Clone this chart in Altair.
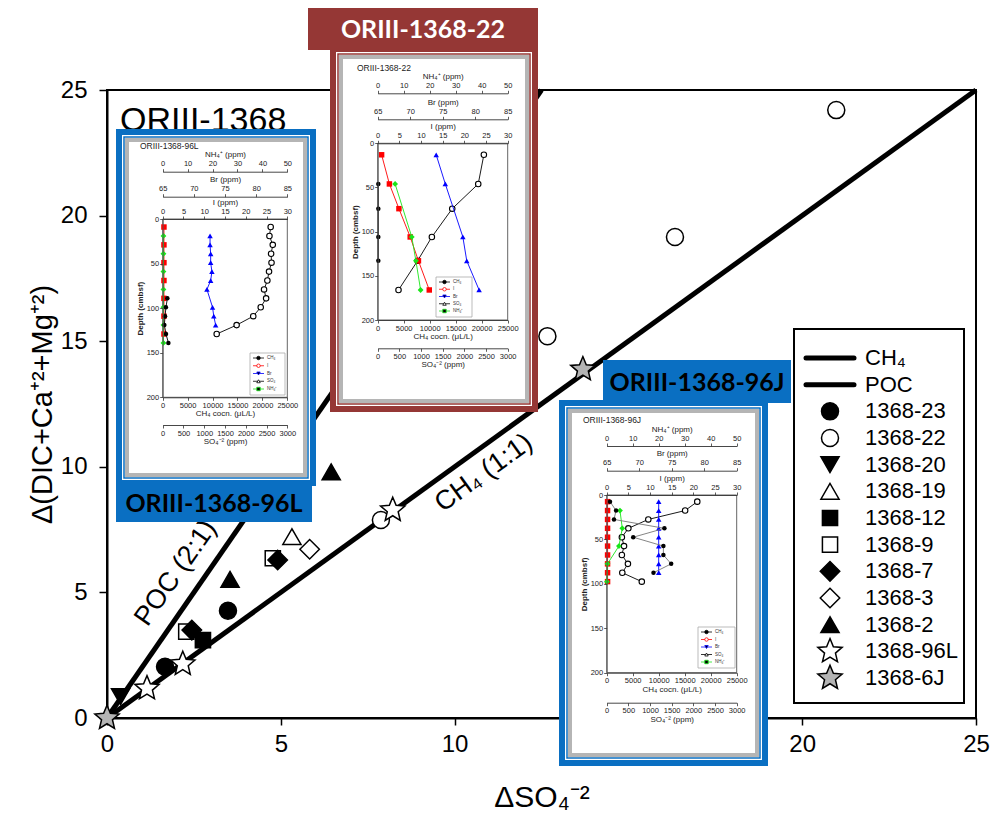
import altair as alt
import pandas as pd

FONT = "Liberation Sans"

# ---------------- main scatter data ----------------
series_names = ["1368-23", "1368-22", "1368-20", "1368-19", "1368-12", "1368-9",
                "1368-7", "1368-3", "1368-2", "1368-96L", "1368-6J"]
pt_series = ["1368-23", "1368-23",
             "1368-22", "1368-22", "1368-22", "1368-22",
             "1368-20", "1368-19", "1368-12", "1368-9", "1368-9",
             "1368-7", "1368-7", "1368-3", "1368-2", "1368-2",
             "1368-96L", "1368-96L", "1368-96L", "1368-6J", "1368-6J"]
pt_so4 = [1.67, 3.48, 7.88, 12.67, 16.34, 20.98, 0.39, 5.32, 2.76, 2.28, 4.77,
          2.44, 4.91, 5.83, 3.54, 6.45, 1.15, 2.18, 8.22, 0.0, 13.69]
pt_dic = [2.04, 4.27, 7.88, 15.2, 19.15, 24.2, 0.85, 7.22, 3.1, 3.44, 6.36,
          3.5, 6.29, 6.72, 5.52, 9.8, 1.18, 2.15, 8.28, 0.0, 13.88]

# reference lines
line_names = ["CH4", "CH4", "POC", "POC"]
line_x = [0, 25, 0, 12.5]
line_y = [0, 25, 0, 25]

legend_labels = ["CH₄", "POC"] + series_names

# ---------------- inset data (depth profiles) ----------------
# ORIII-1368-96L
L_ch4_depth = [89, 99, 109, 119, 129, 139]
L_ch4 = [940, 650, 470, 330, 670, 1140]
L_i_depth = [9, 29, 49, 69, 89, 109, 129]
L_i = [0.3, 0.3, 0.3, 0.3, 0.3, 0.3, 0.3]
L_br_depth = [19, 29, 39, 49, 59, 69, 79, 99, 109, 119]
L_br = [72.6, 72.6, 72.7, 72.7, 72.9, 72.7, 72.1, 73.0, 73.2, 73.5]
L_so4_depth = [9, 19, 29, 39, 49, 59, 69, 79, 89, 99, 109, 119, 129]
L_so4 = [2600, 2570, 2650, 2610, 2620, 2560, 2520, 2440, 2490, 2360, 2180, 1780, 1300]
L_nh4_depth = [19, 39, 59, 79, 99, 119, 139]
L_nh4 = [0.3, 0.3, 0.3, 0.3, 0.3, 0.3, 0.3]

# ORIII-1368-22
M_ch4_depth = [46, 74, 106, 133]
M_ch4 = [120, 120, 120, 120]
M_i_depth = [13, 46, 74, 106, 133, 166]
M_i = [0.9, 2.7, 4.9, 7.5, 9.4, 11.9]
M_br_depth = [13, 46, 106, 133, 166]
M_br = [74.0, 75.4, 78.1, 78.7, 80.6]
M_so4_depth = [13, 46, 74, 106, 133, 166]
M_so4 = [2450, 2320, 1720, 1250, 920, 480]
M_nh4_depth = [46, 106, 133, 166]
M_nh4 = [6.7, 13.1, 14.7, 16.5]

# ORIII-1368-96J
J_ch4_depth = [7.5, 17.5, 27.5, 37.5, 47.5, 57.5, 67.5, 77.5, 87.5]
J_ch4 = [640, 1800, 1400, 11100, 5100, 10900, 10900, 12400, 9000]
J_i_depth = [7.5, 17.5, 27.5, 37.5, 47.5, 57.5, 67.5, 77.5, 87.5, 97.5]
J_i = [0.2, 0.2, 0.2, 0.2, 0.2, 0.2, 0.2, 0.2, 0.2, 0.2]
J_br_depth = [7.5, 17.5, 27.5, 37.5, 47.5, 57.5, 67.5, 77.5, 87.5]
J_br = [73.0, 73.0, 73.0, 73.0, 73.0, 73.0, 73.0, 73.0, 73.0]
J_so4_depth = [7.5, 17.5, 27.5, 37.5, 47.5, 57.5, 67.5, 77.5, 87.5, 97.5]
J_so4 = [2090, 1810, 960, 500, 350, 400, 350, 490, 360, 810]
J_nh4_depth = [17.5, 37.5, 57.5, 77.5, 97.5]
J_nh4 = [5.1, 6.0, 4.7, 0.3, 0.1]

inset_rows = ["CH₄", "I", "Br", "SO₄", "NH₄⁺"]

# ---------------- layout ----------------
OX, OY = 107, 90      # plot origin on the page
W, H = 869, 628
BLUE = "#0a6fc2"
MAROON = "#953735"
STAR = ("M0,-1L0.265,-0.364L0.951,-0.309L0.428,0.139L0.588,0.809L0,0.45"
        "L-0.588,0.809L-0.428,0.139L-0.951,-0.309L-0.265,-0.364Z")

one = pd.DataFrame({"k": [0]})


def rx(px):
    return px - OX


def ry(py):
    return py - OY


def box(x0, y0, x1, y1, **kw):
    return alt.Chart(one).mark_rect(**kw).encode(
        x=alt.value(rx(x0)), x2=alt.value(rx(x1)),
        y=alt.value(ry(y0)), y2=alt.value(ry(y1)))


def txt(s, x, y, **kw):
    return alt.Chart(one).mark_text(text=s, **kw).encode(
        x=alt.value(rx(x)), y=alt.value(ry(y)))


# ---------------- main chart ----------------
shape_scale = alt.Scale(domain=series_names,
                        range=["circle", "circle", "triangle-down", "triangle-up", "square", "square",
                               "diamond", "diamond", "triangle-up", STAR, STAR])
fill_scale = alt.Scale(domain=series_names,
                       range=["black", "white", "black", "white", "black", "white",
                              "black", "white", "black", "white", "#b4b4b4"])
size_scale = alt.Scale(type="ordinal", domain=series_names,
                       range=[290, 290, 330, 330, 230, 230, 380, 380, 330, 650, 650])

xmain = alt.X("so4:Q", scale=alt.Scale(domain=[0, 25], nice=False, zero=False),
              axis=alt.Axis(values=[0, 5, 10, 15, 20, 25], title="ΔSO₄⁻²", format="d",
                            labelFontSize=24, titleFontSize=30, tickSize=7, tickWidth=1.5,
                            labelPadding=7, titlePadding=26, domainWidth=2, grid=False,
                            domainColor="black", tickColor="black", labelColor="black",
                            titleColor="black", titleFontWeight="normal", labelFlush=False,
                            labelFont=FONT, titleFont=FONT))
ymain = alt.Y("dic:Q", scale=alt.Scale(domain=[0, 25], nice=False, zero=False),
              axis=alt.Axis(values=[0, 5, 10, 15, 20, 25], title="Δ(DIC+Ca⁺²+Mg⁺²)", format="d",
                            labelFontSize=24, titleFontSize=29, tickSize=8, tickWidth=1.5,
                            labelPadding=12, titlePadding=3, domainWidth=2, grid=False,
                            domainColor="black", tickColor="black", labelColor="black",
                            titleColor="black", titleFontWeight="normal", labelFlush=False,
                            labelFont=FONT, titleFont=FONT))

lines_df = pd.DataFrame({"name": line_names, "so4": line_x, "dic": line_y})
pts_df = pd.DataFrame({"series": pt_series, "so4": pt_so4, "dic": pt_dic})

ref_lines = alt.Chart(lines_df).mark_line(color="black", strokeWidth=5).encode(
    x=xmain, y=ymain, detail="name:N")
points = alt.Chart(pts_df).mark_point(filled=True, stroke="black", strokeWidth=1.5, opacity=1).encode(
    x=xmain, y=ymain,
    shape=alt.Shape("series:N", scale=shape_scale, legend=None),
    fill=alt.Fill("series:N", scale=fill_scale, legend=None),
    size=alt.Size("series:N", scale=size_scale, legend=None))
lab_df = pd.DataFrame({"so4": [10.84, 1.98], "dic": [9.75, 5.77], "t": ["CH₄ (1:1)", "POC (2:1)"]})
lab_ch4 = alt.Chart(lab_df.iloc[[0]]).mark_text(fontSize=27, font=FONT, angle=324, color="black").encode(
    x=xmain, y=ymain, text="t:N")
lab_poc = alt.Chart(lab_df.iloc[[1]]).mark_text(fontSize=27, font=FONT, angle=305, color="black").encode(
    x=xmain, y=ymain, text="t:N")
main = alt.layer(ref_lines, points, lab_ch4, lab_poc)

title = txt("ORIII-1368", 120, 131, fontSize=34, font=FONT, align="left",
            baseline="alphabetic", color="black")


# ---------------- insets ----------------
def profile(depths, vals, dom, xr, yr, axis, color, shape, size=28, line_color=None, hollow=False,
            show_y=None):
    df = pd.DataFrame({"depth": depths, "v": vals})
    if hollow:
        pt = alt.OverlayMarkDef(shape=shape, filled=False, fill="white", stroke=color,
                                strokeWidth=1.1, size=size, opacity=1)
    else:
        pt = alt.OverlayMarkDef(shape=shape, filled=True, color=color, size=size, opacity=1)
    return alt.Chart(df).mark_line(color=line_color or color, strokeWidth=0.9, point=pt).encode(
        x=alt.X("v:Q", scale=alt.Scale(domain=dom, range=xr, nice=False, zero=False), axis=axis),
        y=alt.Y("depth:Q", scale=alt.Scale(domain=[0, 200], range=yr, nice=False, zero=False),
                axis=show_y if show_y is not None else None),
        order=alt.Order("depth:Q"))


def small_axis(orient, offset, values, title):
    return alt.Axis(orient=orient, offset=offset, values=values, title=title, zindex=3, format="d",
                    labelFontSize=7.5, titleFontSize=8, tickSize=3, tickWidth=0.8, domainWidth=0.9,
                    labelPadding=1, titlePadding=1, domainColor="#333", tickColor="#333",
                    labelColor="#222", titleColor="#222", titleFontWeight="normal", grid=False,
                    labelFont=FONT, titleFont=FONT, labelFlush=False, labelOverlap=False)


def inset(g, data, frame):
    c = frame["color"]
    x0, y0, x1, y1 = frame["box"]
    parts = [
        box(x0, y0, x1, y1, fill=c),
        box(x0 + 6, y0 + 6, x1 - 6, y1 - 6, fill="white"),
        box(x0 + 8, y0 + 8, x1 - 8, y1 - 8, fill="white", stroke=c, strokeWidth=1.5),
        box(x0 + 11, y0 + 11, x1 - 11, y1 - 11, fill="white", stroke="#b5b5b5", strokeWidth=4),
    ]
    lx0, ly0, lx1, ly1 = frame["label"]
    parts.append(box(lx0, ly0, lx1, ly1, fill=c))
    parts.append(txt(frame["text"], (lx0 + lx1) / 2, (ly0 + ly1) / 2 + 1, fontSize=25, font="Lato",
                     fontWeight="bold", color=frame["tcolor"], align="center", baseline="middle"))
    parts.append(txt(frame["text"], g["title"][0], g["title"][1], fontSize=8.5, font=FONT,
                     align="left", baseline="middle", color="#222"))

    xr = [rx(g["px0"]), rx(g["px1"])]
    yr = [ry(g["py0"]), ry(g["py1"])]
    parts.append(box(g["px0"], g["py0"], g["px1"], g["py1"], fillOpacity=0, stroke="#555",
                     strokeWidth=0.9))

    depth_axis = alt.Axis(orient="left", offset=-rx(g["px0"]), values=[0, 50, 100, 150, 200],
                          title="Depth (cmbsf)", zindex=3, labelFontSize=7.5, titleFontSize=8,
                          tickSize=3, tickWidth=0.8, domainWidth=0.9, labelPadding=1, titlePadding=2,
                          domainColor="#555", tickColor="#333", labelColor="#222", format="d",
                          titleColor="#222", titleFontWeight="bold", grid=False,
                          labelFont=FONT, titleFont=FONT, labelFlush=False, labelOverlap=False)

    parts.append(profile(data["so4_d"], data["so4"], [0, 3000], xr, yr,
                         small_axis("bottom", ry(g["so4"]) - H, [0, 500, 1000, 1500, 2000, 2500, 3000],
                                    "SO₄⁻² (ppm)"),
                         "black", "circle", size=30, hollow=True))
    parts.append(profile(data["br_d"], data["br"], [65, 85], xr, yr,
                         small_axis("top", -ry(g["br"]), [65, 70, 75, 80, 85], "Br (ppm)"),
                         "#0000ff", "triangle-up", size=30))
    parts.append(profile(data["i_d"], data["i"], [0, 30], xr, yr,
                         small_axis("top", -ry(g["py0"]), [0, 5, 10, 15, 20, 25, 30], "I (ppm)"),
                         "#ff0000", "square", size=30))
    parts.append(profile(data["nh4_d"], data["nh4"], [0, 50], xr, yr,
                         small_axis("top", -ry(g["nh4"]), [0, 10, 20, 30, 40, 50], "NH₄⁺ (ppm)"),
                         "#19e619", "diamond", size=34))
    parts.append(profile(data["ch4_d"], data["ch4"], [0, 25000], xr, yr,
                         small_axis("bottom", ry(g["py1"]) - H, [0, 5000, 10000, 15000, 20000, 25000],
                                    "CH₄ cocn. (μL/L)"),
                         "black", "circle", size=20, line_color=data.get("ch4_line", "black"),
                         show_y=depth_axis))

    # small legend in the profile plot
    gx0, gy0, gx1, gy1 = g["leg"]
    leg_df = pd.DataFrame({"lab": inset_rows})
    ly = alt.Y("lab:N", scale=alt.Scale(type="point", domain=inset_rows,
                                         range=[ry(gy0 + 5), ry(gy1 - 6)], padding=0), axis=None)
    col = alt.Color("lab:N", scale=alt.Scale(domain=inset_rows,
                                             range=["black", "#ff0000", "#0000ff", "black", "#19e619"]),
                    legend=None)
    shp = alt.Shape("lab:N", scale=alt.Scale(domain=inset_rows,
                                             range=["circle", "square", "triangle-up", "circle", "diamond"]),
                    legend=None)
    lfill = alt.Fill("lab:N", scale=alt.Scale(domain=inset_rows,
                                              range=["black", "#ff0000", "#0000ff", "white", "#19e619"]),
                     legend=None)
    leg = alt.layer(
        alt.Chart(leg_df).mark_rule(strokeWidth=0.8).encode(
            x=alt.value(rx(gx0 + 3)), x2=alt.value(rx(gx0 + 14)), y=ly, color=col),
        alt.Chart(leg_df).mark_point(size=12, opacity=1, strokeWidth=0.8).encode(
            x=alt.value(rx(gx0 + 8.5)), y=ly, shape=shp, fill=lfill, stroke=col),
        alt.Chart(leg_df).mark_text(fontSize=4.5, font=FONT, align="left", color="#333").encode(
            x=alt.value(rx(gx0 + 17)), y=ly, text="lab:N"),
    )
    parts.append(box(gx0, gy0, gx1, gy1, fill="white", stroke="#aaa", strokeWidth=0.8))
    parts.append(leg)
    return alt.layer(*parts).resolve_scale(x="independent", y="independent")


G96L = dict(px0=162.7, px1=287.3, py0=219, py1=397.3, nh4=171.7, br=196.7, so4=425,
            title=(140, 146), leg=(250, 353, 285, 395))
G22 = dict(px0=377.7, px1=507.7, py0=143.3, py1=320, nh4=93.3, br=119.3, so4=348.3,
           title=(357, 68), leg=(436, 277, 472, 317))
G96J = dict(px0=606.7, px1=736.7, py0=495, py1=672.7, nh4=446, br=470.7, so4=702.7,
            title=(583, 420), leg=(698, 627, 735, 668))

D96L = dict(ch4_d=L_ch4_depth, ch4=L_ch4, i_d=L_i_depth, i=L_i, br_d=L_br_depth, br=L_br,
            so4_d=L_so4_depth, so4=L_so4, nh4_d=L_nh4_depth, nh4=L_nh4)
D22 = dict(ch4_d=M_ch4_depth, ch4=M_ch4, i_d=M_i_depth, i=M_i, br_d=M_br_depth, br=M_br,
           so4_d=M_so4_depth, so4=M_so4, nh4_d=M_nh4_depth, nh4=M_nh4)
D96J = dict(ch4_d=J_ch4_depth, ch4=J_ch4, i_d=J_i_depth, i=J_i, br_d=J_br_depth, br=J_br,
            so4_d=J_so4_depth, so4=J_so4, nh4_d=J_nh4_depth, nh4=J_nh4, ch4_line="#777")

F96L = dict(color=BLUE, box=(116, 129, 316, 486), label=(116, 484, 312, 522),
            text="ORIII-1368-96L", tcolor="black")
F22 = dict(color=MAROON, box=(330, 46, 538, 412), label=(308, 8, 538, 50),
           text="ORIII-1368-22", tcolor="white")
F96J = dict(color=BLUE, box=(559, 400, 768, 766), label=(603, 360, 791, 403),
            text="ORIII-1368-96J", tcolor="black")

in96L = inset(G96L, D96L, F96L)
in22 = inset(G22, D22, F22)
in96J = inset(G96J, D96J, F96J)

# ---------------- main legend ----------------
leg_df = pd.DataFrame({"lab": legend_labels})
lyy = alt.Y("lab:N", scale=alt.Scale(type="point", domain=legend_labels,
                                      range=[ry(358), ry(678)], padding=0), axis=None)
leg_main = alt.layer(
    box(794, 329, 964, 703, fill="white", stroke="black", strokeWidth=2),
    alt.layer(
        alt.Chart(leg_df.iloc[:2]).mark_rule(color="black", strokeWidth=5, strokeCap="round").encode(
            x=alt.value(rx(806)), x2=alt.value(rx(854)), y=lyy),
        alt.Chart(pd.DataFrame({"lab": legend_labels[2:], "series": series_names})).mark_point(
            filled=True, stroke="black", strokeWidth=1.5, opacity=1).encode(
            x=alt.value(rx(830)), y=lyy,
            shape=alt.Shape("series:N", scale=shape_scale, legend=None),
            fill=alt.Fill("series:N", scale=fill_scale, legend=None),
            size=alt.Size("series:N", scale=size_scale, legend=None)),
        alt.Chart(leg_df).mark_text(fontSize=22, font=FONT, align="left", baseline="middle",
                                    color="black").encode(
            x=alt.value(rx(865)), y=lyy, text="lab:N"),
    ),
).resolve_scale(x="independent", y="independent")

chart = alt.layer(main, title, in96L, in22, in96J, leg_main).resolve_scale(
    x="independent", y="independent"
).properties(
    width=W, height=H,
    padding={"left": OX - 8, "top": OY - 8, "right": 983 - (OX - 8) - W, "bottom": 103},
    autosize=alt.AutoSizeParams(type="none"),
    background="white",
).configure_view(stroke="black", strokeWidth=2).configure_text(font=FONT)

chart.save("out.html", embed_options={"renderer": "svg", "actions": False})
